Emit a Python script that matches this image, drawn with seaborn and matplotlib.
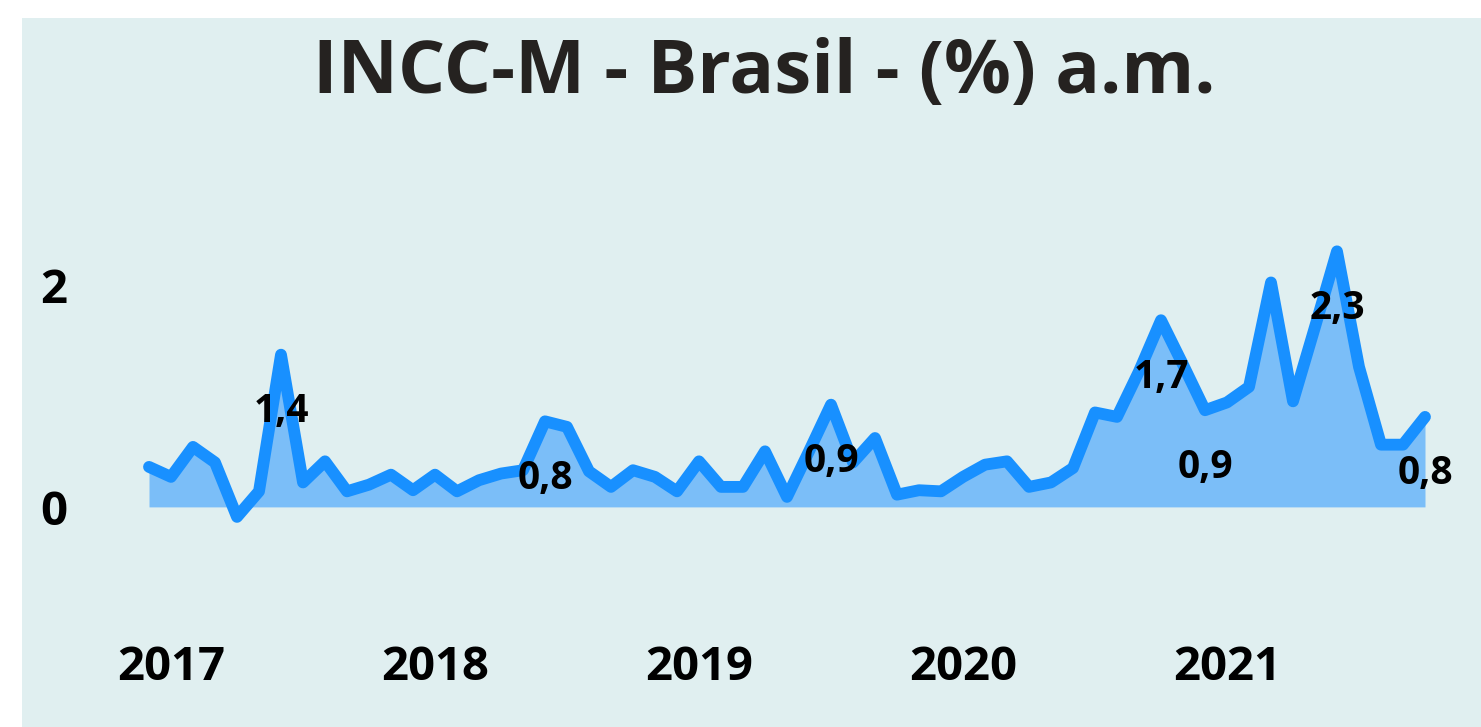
import pandas as pd
import matplotlib.pyplot as plt
import seaborn as sns
from matplotlib.patches import Rectangle

# monthly INCC-M values (% a.m.), Dec 2016 .. Oct 2021
start_month = '2016-12'
values = [0.36, 0.27, 0.54, 0.40, -0.09, 0.14, 1.37, 0.22, 0.41, 0.14,
          0.20, 0.29, 0.15, 0.29, 0.14, 0.24, 0.30, 0.33, 0.77, 0.72,
          0.32, 0.18, 0.33, 0.27, 0.14, 0.41, 0.18, 0.18, 0.50, 0.09,
          0.50, 0.92, 0.40, 0.62, 0.11, 0.15, 0.14, 0.27, 0.38, 0.41,
          0.18, 0.22, 0.35, 0.85, 0.81, 1.22, 1.68, 1.28, 0.87, 0.94,
          1.08, 2.02, 0.95, 1.62, 2.30, 1.26, 0.56, 0.56, 0.81]
label_idx = [6, 18, 31, 46, 48, 54, 58]
label_txt = ['1,4', '0,8', '0,9', '1,7', '0,9', '2,3', '0,8']
year_labels = ['2017', '2018', '2019', '2020', '2021']
y_ticks = [0, 2]

dates = pd.date_range(start_month, periods=len(values), freq='MS')
data = pd.DataFrame({'idx': range(len(values)), 'date': dates, 'valor': values})

sns.set_style('white')
plt.rcParams['font.family'] = ['Open Sans', 'DejaVu Sans']

fig = plt.figure(figsize=(14.81, 7.27), dpi=100, facecolor='white')
fig.patches.append(Rectangle((22 / 1481, 0), 1, 1 - 18 / 727, transform=fig.transFigure,
                             facecolor='#E0EFF0', edgecolor='none', zorder=-10))
ax = fig.add_axes([138 / 1481, (727 - 618) / 727, (1436 - 138) / 1481, 400 / 727])
ax.set_facecolor('none')
ax.set_zorder(5)

ax.fill_between(data['idx'], 0, data['valor'], color='#7BBEF8', lw=0, zorder=1)
sns.lineplot(data=data, x='idx', y='valor', ax=ax, color='#1890FF', lw=8.5,
             solid_capstyle='round', solid_joinstyle='round', zorder=2)

for i, t in zip(label_idx, label_txt):
    ax.annotate(t, (i, values[i]), xytext=(0, -57), textcoords='offset pixels',
                ha='center', va='center', fontsize=28, fontweight='bold',
                color='black', zorder=3)

# year ticks at January of each year
jan_pos = [data.index[(data['date'].dt.year == int(y)) & (data['date'].dt.month == 1)][0]
           for y in year_labels]
ax.set_xticks(jan_pos)
ax.set_xticklabels(year_labels, fontsize=34, fontweight='bold', color='black')
ax.set_yticks(y_ticks)
ax.set_yticklabels([str(v) for v in y_ticks], fontsize=34, fontweight='bold', color='black')
ax.tick_params(axis='x', length=0, pad=19)
ax.tick_params(axis='y', length=0, pad=51)
ax.set_xlim(-0.5, 58.5)
ax.set_ylim(-1.0, 2.6)
ax.set_xlabel('')
ax.set_ylabel('')
sns.despine(ax=ax, left=True, bottom=True)

fig.text(0.516, 1 - 74 / 727, 'INCC-M - Brasil - (%) a.m.', ha='center', va='center',
         fontsize=53.5, fontweight='bold', color='#252220')

fig.savefig('out.png', dpi=100, facecolor='white')
